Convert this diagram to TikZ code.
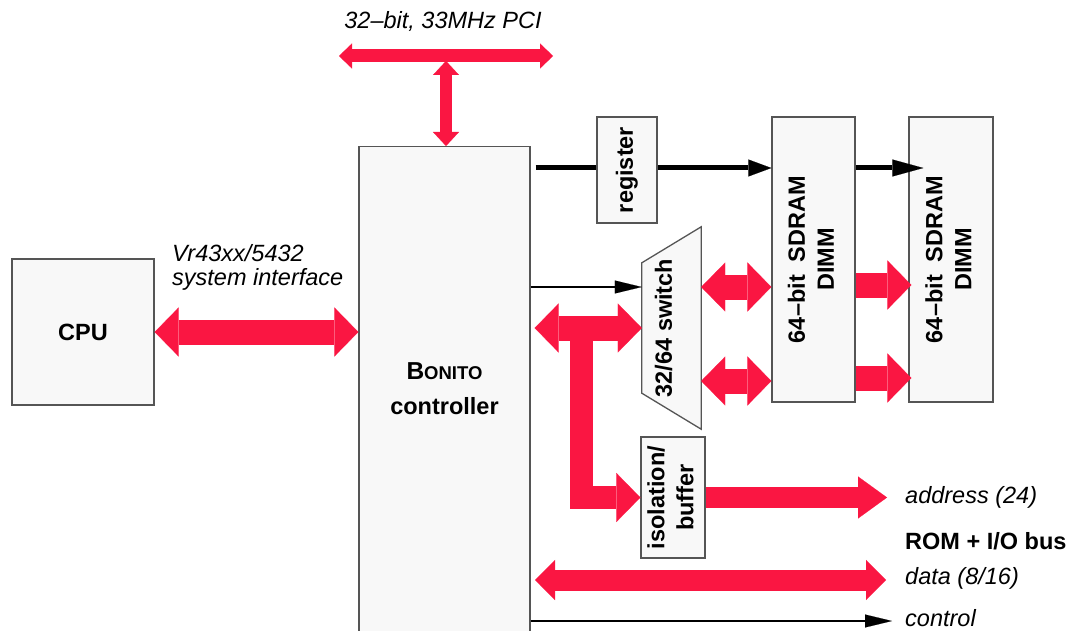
\documentclass[tikz,border=0pt]{standalone}
\usepackage{fontspec}
\setmainfont{Liberation Sans}
\usepackage{graphicx}
\usetikzlibrary{arrows.meta,positioning,calc}

\definecolor{busred}{RGB}{250,22,66}
\definecolor{boxfill}{RGB}{248,248,248}
\definecolor{boxedge}{RGB}{85,85,85}
\newcommand{\vlab}[1]{\rotatebox{90}{\begin{tabular}{@{}c@{}}#1\end{tabular}}}

\begin{document}
\begin{tikzpicture}[
    x=1pt, y=-1pt,
    font=\fontsize{23.5}{29}\selectfont\bfseries,
    box/.style={draw=boxedge, fill=boxfill, line width=1.3pt, inner sep=0pt},
    lbl/.style={font=\fontsize{23.5}{24}\selectfont\itshape, inner sep=0pt},
    fat/.style={draw=busred, line width=25pt},
    slim/.style={draw=busred, line width=21pt},
    wire/.style={draw=black, line width=5pt},
    thinwire/.style={draw=black, line width=2.5pt},
    bigH/.tip={Triangle[length=24pt, width=49pt, line width=0.1pt]},
    addrH/.tip={Triangle[length=29pt, width=42pt, line width=0.1pt]},
    dataH/.tip={Triangle[length=20pt, width=40pt, line width=0.1pt]},
    pciH/.tip={Triangle[length=13pt, width=25pt, line width=0.1pt]},
    wireH/.tip={Triangle[length=23pt, width=17pt, line width=0.1pt]},
    thinH/.tip={Triangle[length=27pt, width=13pt, line width=0.1pt]}
]
\useasboundingbox (0,0) rectangle (1073,631);

\node[box, minimum width=142pt, minimum height=146pt] (cpu) at (83,332) {CPU};
\node[box, minimum width=171pt, minimum height=520pt, anchor=north] (bonito) at (444.5,146) {};
\node[align=center, font=\fontsize{23.5}{35}\selectfont\bfseries] (bonitolbl) at (444.5,389)
    {{\fontsize{24.5}{35}\selectfont B}{\fontsize{18.5}{35}\selectfont ONITO}\\controller};

\node[box, minimum width=60pt, minimum height=106pt] (reg) at (627,170) {\vlab{register}};
\node[box, minimum width=83pt, minimum height=285pt] (dimmA) at (813.5,259.5)
    {\vlab{64–bit~~SDRAM\\DIMM}};
\node[box, minimum width=84pt, minimum height=285pt] (dimmB) at (951,259.5)
    {\vlab{64–bit~~SDRAM\\DIMM}};

\node[minimum width=59pt, minimum height=202pt, inner sep=0pt] (switch) at (671.5,328) {};
\draw[box] ($(switch.north west)+(0,36)$) -- (switch.north east)
    -- (switch.south east) -- ($(switch.south west)+(0,-36)$) -- cycle;
\node (switchlbl) at (666,328) {\vlab{32/64 switch}};

\node[box, minimum width=64pt, minimum height=121pt] (buf) at (673,497.5) {\vlab{isolation/\\buffer}};

\node[lbl] (pcilbl) at (443,21) {32–bit, 33MHz PCI};
\node[lbl, anchor=north west, align=left] (syslbl) at (172,244) {Vr43xx/5432\\system interface};
\node[lbl, anchor=west] (addrlbl) at (905,497) {address (24)};
\node[anchor=west, inner sep=0pt] (romlbl) at (905,541) {ROM + I/O bus};
\node[lbl, anchor=west] (datalbl) at (905,578) {data (8/16)};
\node[lbl, anchor=west] (ctrllbl) at (905,618) {control};

\coordinate (pciL) at (339,56);
\coordinate (pciR) at (553,56);
\coordinate (pciT) at (446,61);
\coordinate (tee) at (581.5,328);
\coordinate (swA) at ($(switch.east)+(0,-41)$);
\coordinate (swB) at ($(switch.east)+(0,53)$);
\coordinate (swIn) at ($(switch.west)+(0,-41)$);
\coordinate (dimA) at ($(dimmA.east)+(0,25.5)$);
\coordinate (dimB) at ($(dimmA.east)+(0,118.5)$);
\coordinate (addrEnd) at (887,497.5);
\coordinate (dataL) at (535,580);
\coordinate (dataR) at (886,580);
\coordinate (ctrlEnd) at (892,621);

\draw[busred, line width=13pt, pciH-pciH] (pciL) -- (pciR);
\draw[busred, line width=12pt, {Triangle[length=14pt, width=26pt, line width=0.1pt]}-{Triangle[length=14pt, width=26pt, line width=0.1pt]}]
    (pciT) -- (pciT |- bonito.north);

\draw[fat, bigH-bigH] (cpu.east) -- (cpu.east -| bonito.west);

\draw[wire] ($(bonito.east |- reg.west)+(5,-2)$) -- ($(reg.west)+(0,-2)$);
\draw[wire, -wireH] ($(reg.east)+(0,-2)$) -- ($(reg.east -| dimmA.west)+(0,-2)$);
\draw[wire, -{Triangle[length=31pt, width=17pt, line width=0.1pt]}]
    ($(dimmA.east |- reg.east)+(0,-2)$) -- ($(dimmB.west |- reg.east)+(15,-2)$);

\draw[thinwire, -thinH] (bonito.east |- swIn) -- (swIn);
\draw[fat, bigH-bigH] (swA) -- (swA -| dimmA.west);
\draw[fat, bigH-bigH] (swB) -- (swB -| dimmA.west);
\draw[fat, -bigH] (dimA) -- ($(dimA -| dimmB.west)+(3,0)$);
\draw[fat, -bigH] (dimB) -- ($(dimB -| dimmB.west)+(3,0)$);

\draw[fat, bigH-bigH] ($(bonito.east |- tee)+(4,0)$) -- (tee -| switch.west);
\draw[draw=busred, line width=23pt, line join=miter, -bigH] (tee) |- (buf.west);
\draw[slim, -addrH] (buf.east) -- (addrEnd);
\draw[slim, dataH-dataH] (dataL) -- (dataR);
\draw[thinwire, -thinH] (bonito.east |- ctrlEnd) -- (ctrlEnd);

\end{tikzpicture}
\end{document}
